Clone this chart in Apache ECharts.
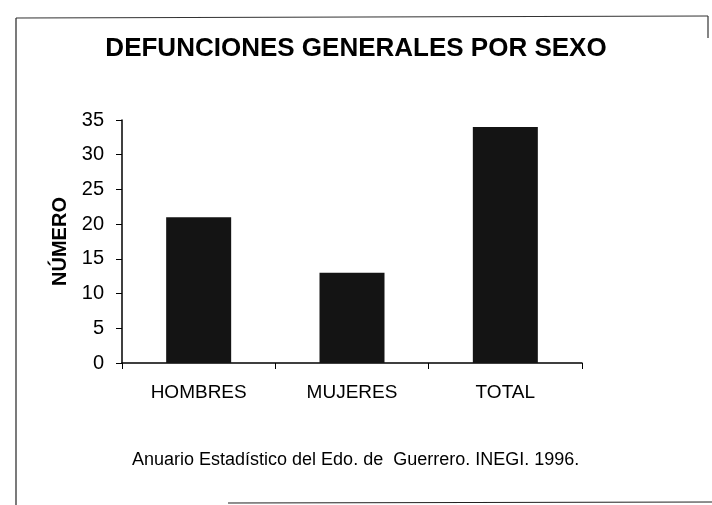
<!DOCTYPE html>
<html>
<head>
<meta charset="utf-8">
<script src="https://cdn.jsdelivr.net/npm/echarts@6/dist/echarts.min.js"></script>
<style>
  html, body { margin: 0; padding: 0; background: #fff; }
  #chart { width: 712px; height: 505px; }
</style>
</head>
<body>
<div id="chart"></div>
<script>
var categories = ['HOMBRES', 'MUJERES', 'TOTAL'];
var defunciones = [21, 13, 34];
var yTicks = { min: 0, max: 35, interval: 5 };

var chart = echarts.init(document.getElementById('chart'), null, { renderer: 'canvas' });
var font = 'Liberation Sans, Arial, sans-serif';

var option = {
  animation: false,
  backgroundColor: '#fff',
  title: {
    text: 'DEFUNCIONES GENERALES POR SEXO',
    left: 'center',
    top: 31,
    textStyle: { fontFamily: font, fontSize: 26, fontWeight: 'bold', color: '#000' }
  },
  grid: { left: 122, right: 130, top: 120, bottom: 142 },
  xAxis: {
    type: 'category',
    data: categories,
    axisLine: { lineStyle: { color: '#000', width: 1.5 } },
    axisTick: { show: true, length: 6, lineStyle: { color: '#000' } },
    axisLabel: { color: '#000', fontFamily: font, fontSize: 19, margin: 20 }
  },
  yAxis: {
    type: 'value',
    min: yTicks.min,
    max: yTicks.max,
    interval: yTicks.interval,
    name: 'NÚMERO',
    nameLocation: 'middle',
    nameGap: 50,
    nameRotate: 90,
    nameTextStyle: { fontFamily: font, fontSize: 20, fontWeight: 'bold', color: '#000' },
    axisLine: { show: true, lineStyle: { color: '#000', width: 1.5 } },
    axisTick: { show: true, length: 6, lineStyle: { color: '#000' } },
    splitLine: { show: false },
    axisLabel: { color: '#000', fontFamily: font, fontSize: 20, margin: 18 }
  },
  series: [{
    type: 'bar',
    data: defunciones,
    barWidth: 65,
    itemStyle: { color: '#141414' }
  }],
  graphic: [
    { type: 'line', shape: { x1: 16, y1: 18, x2: 16, y2: 505 }, style: { stroke: '#222', lineWidth: 1.2 } },
    { type: 'line', shape: { x1: 16, y1: 18, x2: 708, y2: 16 }, style: { stroke: '#333', lineWidth: 1.2 } },
    { type: 'line', shape: { x1: 708, y1: 16, x2: 708, y2: 38 }, style: { stroke: '#333', lineWidth: 1.2 } },
    { type: 'line', shape: { x1: 228, y1: 503, x2: 712, y2: 502 }, style: { stroke: '#222', lineWidth: 1.2 } },
    {
      type: 'text', left: 132, top: 451,
      style: {
        text: 'Anuario Estadístico del Edo. de  Guerrero. INEGI. 1996.',
        fontFamily: font, fontSize: 18, fill: '#000'
      }
    }
  ]
};

chart.setOption(option);
</script>
</body>
</html>
